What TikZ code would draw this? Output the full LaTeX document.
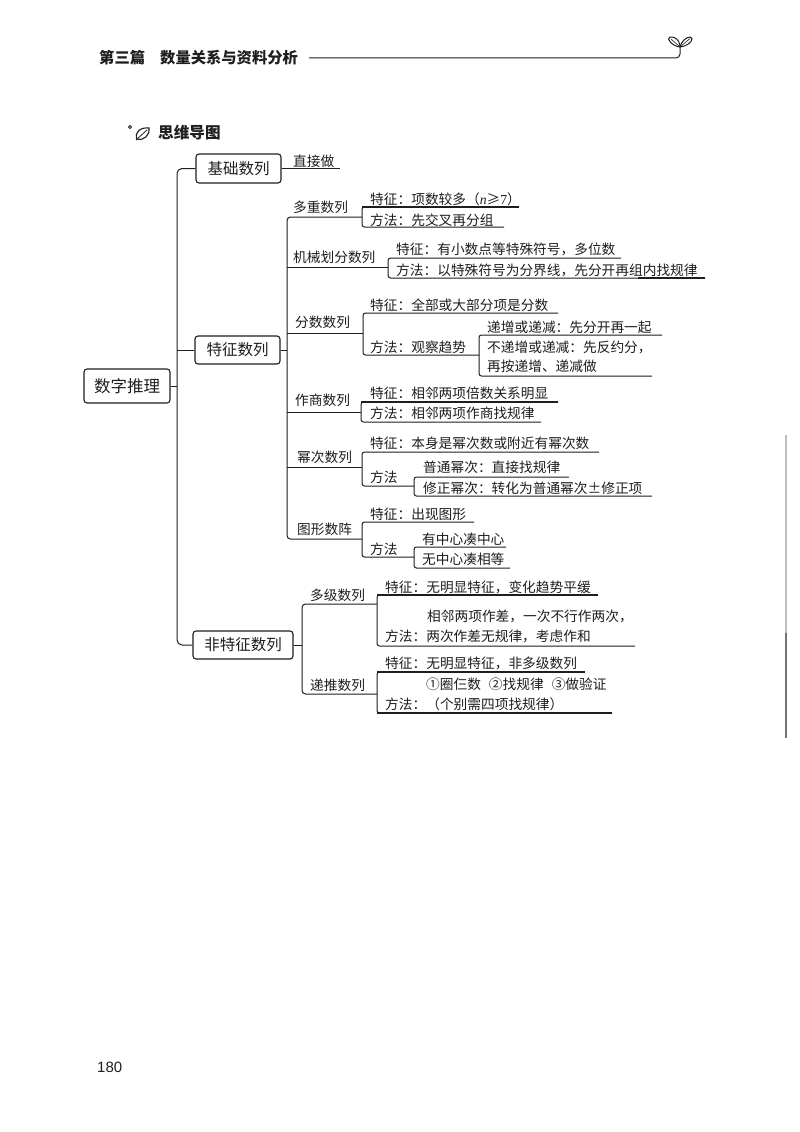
\documentclass[tikz,border=0pt]{standalone}
\usepackage{fontspec}
\setmainfont{Noto Sans CJK SC}
\newfontfamily\latn{Liberation Serif}
\newfontfamily\pagefont{Liberation Sans}
\definecolor{ink}{HTML}{1E1E1E}
\tikzset{
  txt/.style={inner sep=0pt,anchor=west,text=ink,font=\fontsize{13.7}{16}\selectfont},
  head/.style={inner sep=0pt,anchor=west,text=ink,font=\fontsize{15.3}{18}\selectfont\bfseries},
  topic/.style={draw=ink,line width=1.1pt,rounded corners=3pt,inner sep=0pt,text=ink,font=\fontsize{15.5}{18}\selectfont},
  conn/.style={draw=ink,line width=1pt},
  heavy/.style={draw=ink,line width=1.5pt},
  fork/.style={conn,rounded corners=2.5pt},
  trunk/.style={conn,rounded corners=5pt}
}
% name, spine x, top y, bottom y, top end x, bottom end x
\newcommand{\Fork}[6]{%
  \coordinate (#1t) at (#5,#3);
  \coordinate (#1b) at (#6,#4);
  \coordinate (#1s) at (#2,#3);
  \coordinate (#1c) at (#2,#4);
  \draw[fork] (#1t) -- (#1s) -- (#1c) -- (#1b);
}
\begin{document}
\begin{tikzpicture}[x=1pt,y=-1pt]
\useasboundingbox (0,0) rectangle (800,1132);
\fill[white] (0,0) rectangle (800,1132);

% page header
\node[head] (h1) at (99,58) {第三篇};
\node[head] (h2) at (160,58) {数量关系与资料分析};
\coordinate (hr) at (680,47);
\draw[conn,rounded corners=4pt] (h2.east) ++(11,0) -- (680,58) -- (hr);
\draw[conn] (680,47) .. controls (677,47) and (670,44) .. (668.5,39)
  .. controls (668,37) and (671,36.5) .. (674,37.5) .. controls (678,39) and (680,43) .. (680,47);
\draw[conn] (680,47) .. controls (681,42) and (686,37) .. (690,37)
  .. controls (692.5,37) and (692.5,39.5) .. (691,41.5) .. controls (688,45) and (684,46.5) .. (680,47);
\draw[conn,line width=.6pt] (671,39) -- (680,47) -- (690,38.5);

% section title
\draw[conn,line width=.9pt] (130,127) circle (1.6);
\draw[conn,line width=1.1pt] (137,139) .. controls (134,132) and (141,127) .. (149,128)
  .. controls (150,135) and (144,141) .. (137,139) -- cycle;
\draw[conn,line width=.8pt] (136,140) -- (147,130);
\node[head,font=\fontsize{15.6}{18}\selectfont\bfseries] (sec) at (158,133) {思维导图};

% main topics
\node[topic,minimum width=86pt,minimum height=34pt] (root) at (127,386) {\fontsize{16.5}{18}\selectfont 数字推理};
\node[topic,minimum width=85pt,minimum height=29pt] (b1) at (238.5,168.5) {基础数列};
\node[topic,minimum width=85pt,minimum height=28pt] (b2) at (237.5,350) {特征数列};
\node[topic,minimum width=100pt,minimum height=28pt] (b3) at (243,645) {非特征数列};

\coordinate (tk1) at (177,400);
\coordinate (tk2) at (287,400);
\coordinate (tk3) at (302,640);
\draw[trunk] (b1.west) -| (tk1) |- (b3.west);
\draw[conn] (root.east) -- (tk1 |- root.east);
\draw[conn] (b2.west) -- (tk1 |- b2.west);

% basic
\node[txt] (a0) at (293,161) {直接做};
\coordinate (a0e) at (340,168);
\draw[conn] (b1.east |- a0e) -- (a0e);

% feature sequences: branch labels
\node[txt] (l1) at (293,207) {多重数列};
\node[txt] (l2) at (293,257) {机械划分数列};
\node[txt] (l3) at (295,322) {分数数列};
\node[txt] (l4) at (295,400) {作商数列};
\node[txt] (l5) at (297,457) {幂次数列};
\node[txt] (l6) at (297,529) {图形数阵};

\coordinate (f1) at (362,217);
\coordinate (f2) at (388,267);
\coordinate (f3) at (363,333);
\coordinate (f4) at (361,412);
\coordinate (f5) at (362,467);
\coordinate (f6) at (362,539);
\draw[fork,rounded corners=3.5pt] (f1) -| (tk2) |- (f6);
\draw[conn] (b2.east) -- (tk2 |- b2.east);
\draw[conn] (tk2 |- f2) -- (f2);
\draw[conn] (tk2 |- f3) -- (f3);
\draw[conn] (tk2 |- f4) -- (f4);
\draw[conn] (tk2 |- f5) -- (f5);

% 多重数列
\Fork{g1}{362}{207}{227}{519}{504}
\draw[heavy] (g1s) -- (g1t);
\node[txt] (a1) at (370,199) {特征：项数较多（{\latn\itshape n}≥{\latn 7}）};
\node[txt] (a2) at (370,220) {方法：先交叉再分组};

% 机械划分数列
\Fork{g2}{388}{258}{278}{621}{705}
\coordinate (g2h) at (638,278);
\draw[heavy] (g2h) -- (g2b);
\node[txt] (a3) at (396,249) {特征：有小数点等特殊符号，多位数};
\node[txt] (a4) at (396,270) {方法：以特殊符号为分界线，先分开再组内找规律};

% 分数数列
\Fork{g3}{363}{313}{355}{558}{479}
\node[txt] (a5) at (370,305) {特征：全部或大部分项是分数};
\node[txt] (a6) at (370,347) {方法：观察趋势};
\Fork{g3x}{479}{335}{376}{662}{652}
\node[txt] (a7) at (487,327) {递增或递减：先分开再一起};
\node[txt] (a8) at (487,347) {不递增或递减：先反约分，};
\node[txt] (a9) at (487,366) {再按递增、递减做};

% 作商数列
\Fork{g4}{361}{402}{422}{558}{541}
\draw[heavy] (g4s) -- (g4t);
\node[txt] (a10) at (370,393) {特征：相邻两项倍数关系明显};
\node[txt] (a11) at (370,413) {方法：相邻两项作商找规律};

% 幂次数列
\Fork{g5}{362}{452}{486}{599}{414}
\node[txt] (a12) at (370,443) {特征：本身是幂次数或附近有幂次数};
\node[txt] (a13) at (370,477) {方法};
\Fork{g5x}{414}{477}{496}{569}{652}
\node[txt] (a14) at (423,467) {普通幂次：直接找规律};
\node[txt] (a15) at (423,488) {修正幂次：转化为普通幂次±修正项};

% 图形数阵
\Fork{g6}{362}{522}{557}{474}{414}
\node[txt] (a16) at (370,514) {特征：出现图形};
\node[txt] (a17) at (370,549) {方法};
\Fork{g6x}{414}{547}{568}{506}{510}
\node[txt] (a18) at (422,539) {有中心凑中心};
\node[txt] (a19) at (422,559) {无中心凑相等};

% non-feature sequences
\node[txt] (l7) at (310,595) {多级数列};
\node[txt] (l8) at (310,685) {递推数列};
\coordinate (f7) at (377,604);
\coordinate (f8) at (377,694);
\draw[fork,rounded corners=3.5pt] (f7) -| (tk3) |- (f8);
\draw[conn] (b3.east) -- (tk3 |- b3.east);

\Fork{g7}{377}{595}{646}{598}{635}
\draw[heavy] (g7s) -- (g7t);
\node[txt] (a20) at (385,587) {特征：无明显特征，变化趋势平缓};
\node[txt] (a21) at (427,616) {相邻两项作差，一次不行作两次，};
\node[txt] (a22) at (385,636) {方法：两次作差无规律，考虑作和};

\Fork{g8}{377}{672}{713}{585}{612}
\draw[heavy] (g8s) -- (g8t);
\draw[heavy] (g8c) -- (g8b);
\node[txt] (a23) at (385,663) {特征：无明显特征，非多级数列};
\node[txt] (a24) at (426,684) {①圈仨数\hspace{8pt}②找规律\hspace{8pt}③做验证};
\node[txt] (a25) at (385,704) {方法：（个别需四项找规律）};

% page number
\node[inner sep=0pt,anchor=west,text=ink,font=\pagefont\fontsize{15}{18}\selectfont] (pg) at (97,1067) {180};

% scanner streak at the right edge
\draw[line width=1.2pt,draw=black!25] (786,435) -- (786,633);
\draw[line width=1.2pt,draw=black!55] (786,633) -- (786,738);
\end{tikzpicture}
\end{document}
